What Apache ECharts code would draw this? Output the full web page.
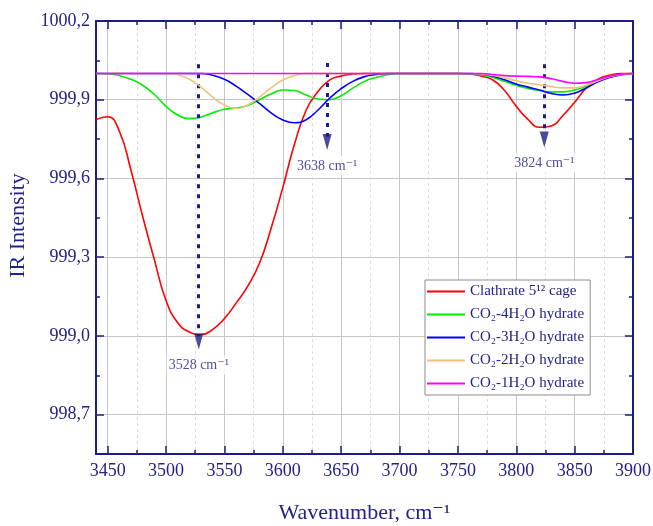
<!DOCTYPE html>
<html>
<head>
<meta charset="utf-8">
<script src="https://cdn.jsdelivr.net/npm/echarts@6/dist/echarts.min.js"></script>
<style>
  html, body { margin: 0; padding: 0; background: #fff; }
  #chart { width: 653px; height: 526px; }
</style>
</head>
<body>
<div id="chart"></div>
<script>
// wavenumber grid, cm-1
var wavenumber = [3440, 3450, 3460, 3470, 3480, 3490, 3500, 3510, 3520, 3530,
  3540, 3550, 3560, 3570, 3580, 3590, 3600, 3610, 3620, 3630,
  3640, 3650, 3660, 3670, 3680, 3690, 3700, 3710, 3720, 3730,
  3740, 3750, 3760, 3770, 3780, 3790, 3800, 3810, 3820, 3830,
  3840, 3850, 3860, 3870, 3880, 3890, 3900];

var clathrate = [999.824, 999.835, 999.78, 999.63, 999.455, 999.29, 999.135, 999.05, 999.015, 999.005,
  999.025, 999.066, 999.125, 999.19, 999.277, 999.41, 999.565, 999.73, 999.86, 999.93,
  999.975, 999.99, 999.998, 1000.0, 1000.0, 1000.0, 1000.0, 1000.0, 1000.0, 1000.0,
  1000.0, 1000.0, 999.998, 999.99, 999.975, 999.935, 999.875, 999.825, 999.795, 999.8,
  999.84, 999.89, 999.945, 999.978, 999.993, 1000.0, 1000.0];

var hyd4 = [1000.0, 999.999, 999.992, 999.978, 999.955, 999.92, 999.875, 999.842, 999.828, 999.834,
  999.85, 999.864, 999.868, 999.878, 999.9, 999.922, 999.937, 999.935, 999.918, 999.903,
  999.9, 999.915, 999.944, 999.97, 999.985, 999.995, 1000.0, 1000.0, 1000.0, 1000.0,
  1000.0, 1000.0, 999.998, 999.994, 999.985, 999.97, 999.955, 999.943, 999.935, 999.93,
  999.93, 999.937, 999.952, 999.972, 999.988, 999.996, 1000.0];

var hyd3 = [1000.0, 1000.0, 1000.0, 1000.0, 1000.0, 1000.0, 1000.0, 1000.0, 1000.0, 1000.0,
  999.993, 999.978, 999.952, 999.92, 999.886, 999.85, 999.823, 999.812, 999.824, 999.86,
  999.905, 999.942, 999.97, 999.988, 999.996, 1000.0, 1000.0, 1000.0, 1000.0, 1000.0,
  1000.0, 1000.0, 1000.0, 999.998, 999.99, 999.976, 999.96, 999.948, 999.937, 999.924,
  999.918, 999.925, 999.945, 999.968, 999.985, 999.995, 1000.0];

var hyd2 = [1000.0, 1000.0, 1000.0, 1000.0, 1000.0, 1000.0, 1000.0, 999.995, 999.978, 999.948,
  999.91, 999.88, 999.867, 999.88, 999.91, 999.945, 999.975, 999.992, 1000.0, 1000.0,
  1000.0, 1000.0, 1000.0, 1000.0, 1000.0, 1000.0, 1000.0, 1000.0, 1000.0, 1000.0,
  1000.0, 1000.0, 1000.0, 999.998, 999.992, 999.983, 999.972, 999.963, 999.957, 999.95,
  999.945, 999.945, 999.955, 999.972, 999.988, 999.996, 1000.0];

var hyd1 = [1000.0, 1000.0, 1000.0, 1000.0, 1000.0, 1000.0, 1000.0, 1000.0, 1000.0, 1000.0,
  1000.0, 1000.0, 1000.0, 1000.0, 1000.0, 1000.0, 1000.0, 1000.0, 1000.0, 1000.0,
  1000.0, 1000.0, 1000.0, 1000.0, 1000.0, 1000.0, 1000.0, 1000.0, 1000.0, 1000.0,
  1000.0, 1000.0, 1000.0, 1000.0, 999.996, 999.992, 999.99, 999.989, 999.987, 999.98,
  999.97, 999.963, 999.965, 999.977, 999.99, 999.997, 1000.0];

var seriesNames = ['Clathrate 5¹² cage', 'CO₂-4H₂O hydrate', 'CO₂-3H₂O hydrate', 'CO₂-2H₂O hydrate', 'CO₂-1H₂O hydrate'];
var seriesColors = ['#ff0000', '#00ee00', '#0000ff', '#f2c27a', '#ff00ff'];

// peak markers: position, top of dotted line, arrow value
var peakPos = [3528, 3638, 3824];
var peakTop = [1000.035, 1000.04, 1000.035];
var peakArrow = [998.979, 999.739, 999.748];

// ticks
var xMajor = [3450, 3500, 3550, 3600, 3650, 3700, 3750, 3800, 3850, 3900];
var xMinor = [3475, 3525, 3575, 3625, 3675, 3725, 3775, 3825, 3875];
var yMajor = [998.7, 999.0, 999.3, 999.6, 999.9, 1000.2];
var yMinor = [998.85, 999.15, 999.45, 999.75, 1000.05];

var navy = '#1c1c86';
var textColor = '#22228a';
var font = '"Liberation Serif", "DejaVu Serif", serif';

var chart = echarts.init(document.getElementById('chart'));

function pairs(ys) {
  return wavenumber.map(function (x, i) { return [x, ys[i]]; });
}

var curves = [clathrate, hyd4, hyd3, hyd2, hyd1];
var series = curves.map(function (ys, i) {
  return {
    name: seriesNames[i],
    type: 'line',
    data: pairs(ys),
    smooth: 0.5,
    symbol: 'none',
    lineStyle: { color: seriesColors[i], width: 1.6 },
    itemStyle: { color: seriesColors[i] },
    z: 3 + i
  };
});

// dotted peak lines + arrow heads + labels
series.push({
  name: 'peaks',
  type: 'scatter',
  data: peakPos.map(function (p, i) { return [p, peakArrow[i]]; }),
  symbol: 'triangle',
  symbolRotate: 180,
  symbolSize: [9, 16],
  itemStyle: { color: navy },
  z: 10,
  label: {
    show: true,
    position: 'bottom',
    distance: 6,
    formatter: function (p) { return p.value[0] + ' cm⁻¹'; },
    color: textColor,
    fontFamily: font,
    fontSize: 14,
    backgroundColor: '#fff',
    padding: [3, 2, 2, 2]
  },
  markLine: {
    silent: true,
    symbol: 'none',
    label: { show: false },
    lineStyle: { color: navy, width: 3, type: [4, 6] },
    data: peakPos.map(function (p, i) {
      return [{ coord: [p, peakTop[i]] }, { coord: [p, peakArrow[i] + 0.02] }];
    })
  }
});

function xAx(pos, ticks, len, opts) {
  return Object.assign({
    type: 'value', position: pos, min: 3440, max: 3900,
    axisLine: { show: false, onZero: false },
    axisTick: { show: true, inside: true, length: len, customValues: ticks, lineStyle: { color: navy, width: 1.5 } },
    axisLabel: { show: false },
    splitLine: { show: false }
  }, opts || {});
}
function yAx(pos, ticks, len, opts) {
  return Object.assign({
    type: 'value', position: pos, min: 998.55, max: 1000.2,
    axisLine: { show: false, onZero: false },
    axisTick: { show: true, inside: true, length: len, customValues: ticks, lineStyle: { color: navy, width: 1.5 } },
    axisLabel: { show: false },
    splitLine: { show: false }
  }, opts || {});
}

var option = {
  animation: false,
  backgroundColor: '#fff',
  textStyle: { fontFamily: font },
  grid: { left: 96, right: 20, top: 21, bottom: 72, containLabel: false, outerBoundsMode: 'none' },
  legend: {
    data: seriesNames,
    orient: 'vertical',
    left: 425,
    top: 280,
    icon: 'rect',
    itemWidth: 38,
    itemHeight: 2,
    itemGap: 8,
    padding: [4, 6, 4, 2],
    backgroundColor: '#fff',
    borderColor: '#8c8c8c',
    borderWidth: 1,
    textStyle: { color: textColor, fontFamily: font, fontSize: 15 }
  },
  xAxis: [
    xAx('bottom', xMajor, 8, {
      axisLine: { show: true, onZero: false, lineStyle: { color: navy, width: 2 } },
      axisLabel: {
        show: true, customValues: xMajor, color: textColor, fontFamily: font, fontSize: 18, margin: 8,
        formatter: function (v) { return String(v); }
      },
      splitLine: { show: true, lineStyle: { color: '#c6c6c6', width: 1 } },
      name: 'Wavenumber, cm⁻¹',
      nameLocation: 'middle',
      nameGap: 48,
      nameTextStyle: { color: textColor, fontFamily: font, fontSize: 22 }
    }),
    xAx('bottom', xMinor, 4, {
      splitLine: { show: true, lineStyle: { color: '#dddddd', width: 1, type: [3, 3] } }
    }),
    xAx('top', xMajor, 8, {
      axisLine: { show: true, onZero: false, lineStyle: { color: navy, width: 2 } }
    }),
    xAx('top', xMinor, 4)
  ],
  yAxis: [
    yAx('left', yMajor, 8, {
      axisLine: { show: true, onZero: false, lineStyle: { color: navy, width: 2 } },
      axisLabel: {
        show: true, customValues: yMajor, color: textColor, fontFamily: font, fontSize: 18, margin: 6,
        formatter: function (v) { return v.toFixed(1).replace('.', ','); }
      },
      splitLine: { show: true, lineStyle: { color: '#c6c6c6', width: 1 } },
      name: 'IR Intensity',
      nameLocation: 'middle',
      nameGap: 62,
      nameTextStyle: { color: textColor, fontFamily: font, fontSize: 22, padding: [0, 0, 0, 24] }
    }),
    yAx('left', yMinor, 4),
    yAx('right', yMajor, 8, {
      axisLine: { show: true, onZero: false, lineStyle: { color: navy, width: 2 } }
    }),
    yAx('right', yMinor, 4)
  ],
  series: series
};

chart.setOption(option);
</script>
</body>
</html>
